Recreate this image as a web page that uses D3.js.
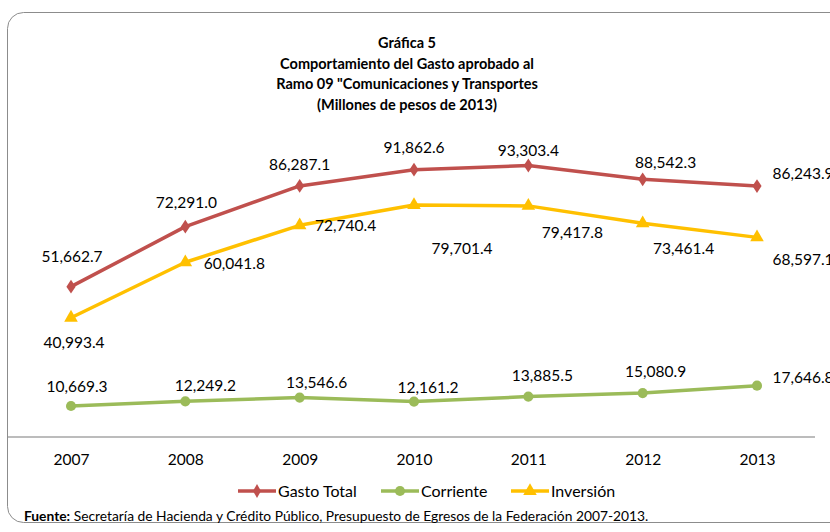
<!DOCTYPE html>
<html lang="es">
<head>
<meta charset="UTF-8">
<script src="https://cdnjs.cloudflare.com/ajax/libs/d3/7.8.5/d3.min.js"></script>
<title>Gráfica 5</title>
<style>
  body { margin: 0; background: #fff; }
  svg { font-family: Lato, "Liberation Sans", sans-serif; }
</style>
</head>
<body>
<svg width="830" height="532"></svg>
<script>
// data
var years = ["2007", "2008", "2009", "2010", "2011", "2012", "2013"];
var gastoTotal = [51662.7, 72291.0, 86287.1, 91862.6, 93303.4, 88542.3, 86243.9];
var corriente = [10669.3, 12249.2, 13546.6, 12161.2, 13885.5, 15080.9, 17646.8];
var inversion = [40993.4, 60041.8, 72740.4, 79701.4, 79417.8, 73461.4, 68597.1];
var titleLines = ["Gráfica 5", "Comportamiento del Gasto aprobado  al",
  "Ramo 09 \"Comunicaciones  y Transportes", "(Millones de pesos de 2013)"];

// where excel left each data label, relative to its point
var gastoLabelOff = [[1, -30], [1, -24], [0, -21], [0, -22], [0, -14], [23, -16], [46, -12]];
var corrLabelOff = [[6, -19], [20, -15], [17, -15], [14, -14], [14, -21], [13, -21], [46, -8]];
var invLabelOff = [[3, 25], [49, 2], [46, 1], [48, 44], [44, 27], [41, 26], [46, 23]];

var svg = d3.select("svg");

// rounded frame
svg.append("rect")
  .attr("x", 7.5).attr("y", 12.5)
  .attr("width", 840).attr("height", 510)
  .attr("rx", 16)
  .attr("fill", "none")
  .attr("stroke", "#8c8c8c");

svg.selectAll("text.title")
  .data(titleLines)
  .enter().append("text")
  .attr("class", "title")
  .attr("x", 407)
  .attr("y", (d, i) => 48 + i * 20.5)
  .attr("text-anchor", "middle")
  .attr("font-size", 14.5)
  .attr("font-weight", "bold")
  .text(d => d);

var x = d3.scalePoint().domain(years).range([71, 757]);
var y = d3.scaleLinear().domain([0, 100000]).range([437, 146]);

// category axis
var xAxis = svg.append("g")
  .attr("transform", "translate(0,437)")
  .call(d3.axisBottom(x).tickSize(0).tickPadding(17));
xAxis.select(".domain").remove();
xAxis.append("line")
  .attr("x1", 8).attr("x2", 815)
  .attr("stroke", "#a6a6a6").attr("stroke-width", 1.5);
xAxis.selectAll(".tick text")
  .attr("font-family", "Lato, sans-serif")
  .attr("font-size", 15.5)
  .attr("fill", "#000");

var series = [
  { name: "Gasto Total", values: gastoTotal, color: "#C0504D", marker: d3.symbolDiamond, size: 55, offs: gastoLabelOff },
  { name: "Corriente", values: corriente, color: "#9BBB59", marker: d3.symbolCircle, size: 80, offs: corrLabelOff },
  { name: "Inversión", values: inversion, color: "#FFC000", marker: d3.symbolTriangle, size: 80, offs: invLabelOff }
];

var line = d3.line()
  .x((d, i) => x(years[i]))
  .y(d => y(d));

var fmt = d3.format(",.1f");

series.forEach(function (s) {
  var g = svg.append("g");
  g.append("path")
    .attr("d", line(s.values))
    .attr("fill", "none")
    .attr("stroke", s.color)
    .attr("stroke-width", 3.5)
    .attr("stroke-linejoin", "round");
  g.selectAll("path.mk")
    .data(s.values)
    .enter().append("path")
    .attr("class", "mk")
    .attr("d", d3.symbol().type(s.marker).size(s.size))
    .attr("transform", (d, i) => "translate(" + x(years[i]) + "," + y(d) + ")" + (s.marker === d3.symbolDiamond ? " scale(1.15,1)" : ""))
    .attr("fill", s.color);
  g.selectAll("text")
    .data(s.values)
    .enter().append("text")
    .attr("x", (d, i) => x(years[i]) + s.offs[i][0])
    .attr("y", (d, i) => y(d) + s.offs[i][1] + 5)
    .attr("text-anchor", "middle")
    .attr("font-size", 15.5)
    .attr("fill", "#000")
    .text(d => fmt(d));
});

// legend
var legX = [238, 381, 511];
var leg = svg.selectAll("g.leg")
  .data(series)
  .enter().append("g")
  .attr("class", "leg")
  .attr("transform", (d, i) => "translate(" + legX[i] + ",491)");
leg.append("line")
  .attr("x1", 0).attr("x2", 38)
  .attr("stroke", d => d.color)
  .attr("stroke-width", 3.5);
leg.append("path")
  .attr("d", d => d3.symbol().type(d.marker).size(d.size)())
  .attr("transform", "translate(19,0)")
  .attr("fill", d => d.color);
leg.append("text")
  .attr("x", 40).attr("y", 5.5)
  .attr("font-size", 16)
  .text(d => d.name);

// source note
var note = svg.append("text")
  .attr("x", 24).attr("y", 521)
  .attr("font-size", 13.8);
note.append("tspan").attr("font-weight", "bold").text("Fuente:");
note.append("tspan").text(" Secretaría de Hacienda y Crédito Público, Presupuesto de Egresos de la Federación 2007-2013.");
</script>
</body>
</html>
